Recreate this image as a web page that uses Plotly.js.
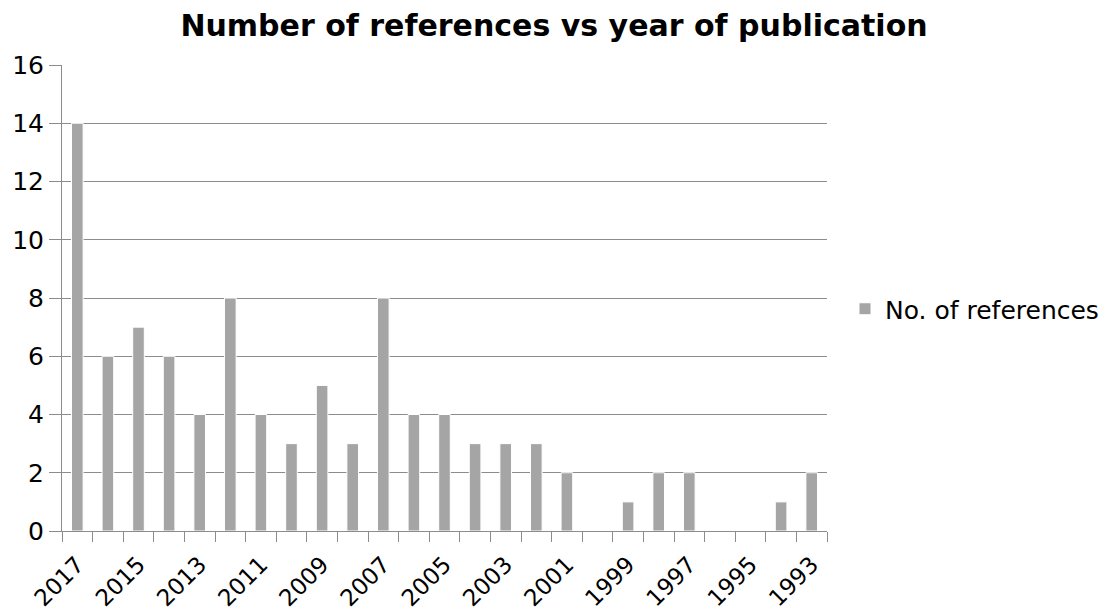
<!DOCTYPE html>
<html>
<head>
<meta charset="utf-8">
<script src="https://cdn.plot.ly/plotly-3.0.1.min.js"></script>
<style>html,body{margin:0;padding:0;background:#fff;}#chart{width:1108px;height:611px;}</style>
</head>
<body>
<div id="chart"></div>
<script>
var years = [2017,2016,2015,2014,2013,2012,2011,2010,2009,2008,2007,2006,2005,2004,2003,2002,2001,2000,1999,1998,1997,1996,1995,1994,1993];
var references = [14,6,7,6,4,8,4,3,5,3,8,4,4,3,3,3,2,0,1,2,2,0,0,1,2];
var tickYears = [2017,2015,2013,2011,2009,2007,2005,2003,2001,1999,1997,1995,1993];
var tickLabels = ["2017","2015","2013","2011","2009","2007","2005","2003","2001","1999","1997","1995","1993"];
var seriesName = "No. of references";
var chartTitle = "Number of references vs year of publication";

var font = "DejaVu Sans, Verdana, sans-serif";
var trace = {
  type: "bar",
  x: years,
  y: references,
  name: seriesName,
  showlegend: true,
  marker: {color: "#a5a5a5", line: {color: "#ffffff", width: 1}}
};
// invisible companion trace so the boundary-tick axis (x2) gets drawn
var tickCarrier = {
  type: "scatter",
  x: years,
  y: references,
  xaxis: "x2",
  mode: "markers",
  marker: {opacity: 0, size: 1},
  showlegend: false,
  hoverinfo: "skip"
};
var first = years[0], last = years[years.length - 1];
var xRange = [first + 0.5, last - 0.5];
var layout = {
  width: 1108, height: 611,
  paper_bgcolor: "#ffffff", plot_bgcolor: "#ffffff",
  margin: {l: 62, r: 281, t: 65, b: 80, autoexpand: false},
  bargap: 0.62,
  font: {family: font, size: 25, color: "#000000"},
  title: {text: "<b>" + chartTitle + "</b>", font: {family: font, size: 30, color: "#000"},
          x: 0.5, xref: "container", xanchor: "center", y: 1 - 25/611, yref: "container", yanchor: "middle"},
  xaxis: {
    type: "linear",
    range: xRange,
    tickmode: "array", tickvals: tickYears, ticktext: tickLabels,
    ticks: "outside", ticklen: 10, tickcolor: "rgba(0,0,0,0)", tickwidth: 1,
    ticklabelstandoff: 0,
    tickangle: -45,
    showline: true, linecolor: "#8c8c8c", linewidth: 1,
    showgrid: false, zeroline: false,
    tickfont: {family: font, size: 23, color: "#000"},
    fixedrange: true
  },
  xaxis2: {
    type: "linear",
    range: xRange,
    overlaying: "x", anchor: "y", side: "bottom",
    tickmode: "linear", tick0: 0.5, dtick: 1,
    ticks: "outside", ticklen: 10, tickcolor: "#8c8c8c", tickwidth: 1,
    showticklabels: false,
    showline: false, showgrid: false, zeroline: false,
    fixedrange: true
  },
  yaxis: {
    range: [0, 16], dtick: 2, tick0: 0,
    ticks: "outside", ticklen: 12, tickcolor: "#8c8c8c", tickwidth: 1,
    showline: true, linecolor: "#8c8c8c", linewidth: 1,
    showgrid: true, gridcolor: "#8c8c8c", gridwidth: 1,
    zeroline: false,
    tickfont: {family: font, size: 25, color: "#000"},
    fixedrange: true
  },
  legend: {
    x: (845 - 62) / 765, xanchor: "left",
    y: (531 - 309) / 466, yanchor: "middle",
    font: {family: font, size: 25, color: "#000"},
    bgcolor: "rgba(0,0,0,0)",
    itemwidth: 30
  },
  showlegend: true
};
Plotly.newPlot("chart", [trace, tickCarrier], layout, {displayModeBar: false, staticPlot: true});
</script>
</body>
</html>
